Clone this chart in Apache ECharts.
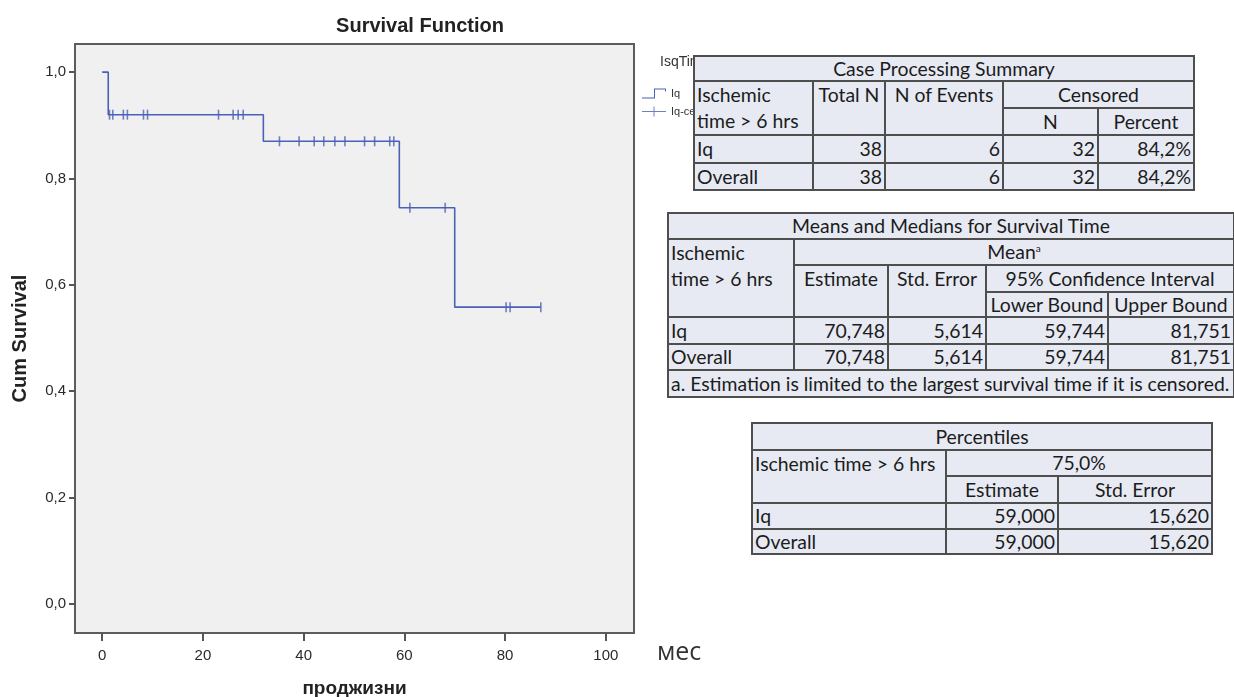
<!DOCTYPE html>
<html>
<head>
<meta charset="utf-8">
<script src="https://cdn.jsdelivr.net/npm/echarts@6/dist/echarts.min.js"></script>
<style>
  html, body { margin:0; padding:0; background:#fff; }
  #chart { position:absolute; left:0; top:0; width:1234px; height:697px; }
  .tbl { position:absolute; z-index:10; border-collapse:collapse; table-layout:fixed;
         background:#e7eaf3; font-family:Lato, "Open Sans", sans-serif; font-size:19.4px; color:#1c1c1c; }
  .tbl td { border:2px solid #4e4e4e; padding:0 2px; line-height:22px; white-space:nowrap; overflow:hidden; vertical-align:middle; }
  .tbl td.c { text-align:center; }
  .tbl td.r { text-align:right; }
  .tbl td.l { text-align:left; }
  .tbl td.top { vertical-align:top; line-height:26px; }
  sup { font-size:10px; line-height:0; }
</style>
</head>
<body>
<div id="chart"></div>
<div id="tables"></div>
<script>
// ---- data ----
const stepTimes    = [0, 1.2, 32, 59, 70, 87.1];
const stepSurvival = [1.0, 0.920, 0.870, 0.745, 0.558, 0.558];
const censorTimes    = [1.45, 2.1, 4.2, 5.0, 8.2, 9.0, 23.1, 26.0, 27.0, 28.0,
                        35.2, 39.1, 42.1, 44.0, 46.2, 48.2, 52.1, 54.1, 57.1, 57.9,
                        61.1, 68.1, 80.2, 81.0, 87.1];
const censorSurvival = [0.920, 0.920, 0.920, 0.920, 0.920, 0.920, 0.920, 0.920, 0.920, 0.920,
                        0.870, 0.870, 0.870, 0.870, 0.870, 0.870, 0.870, 0.870, 0.870, 0.870,
                        0.745, 0.745, 0.558, 0.558, 0.558];
const xTicks = [0, 20, 40, 60, 80, 100];
const yTicks = [0, 0.2, 0.4, 0.6, 0.8, 1.0];

const caseRows = [['Iq', '38', '6', '32', '84,2%'], ['Overall', '38', '6', '32', '84,2%']];
const meanRows = [['Iq', '70,748', '5,614', '59,744', '81,751'], ['Overall', '70,748', '5,614', '59,744', '81,751']];
const pctRows  = [['Iq', '59,000', '15,620'], ['Overall', '59,000', '15,620']];

const BLUE = '#4a61b8';

// ---- chart ----
const chart = echarts.init(document.getElementById('chart'), null, { renderer: 'canvas' });
const stepPath = 'path://M0 9 L12 9 L12 0 L24 0 L24 3 L23 3 L23 1 L13 1 L13 10 L0 10 Z';
const censPath = 'path://M0 4.5 L11.5 4.5 L11.5 0 L12.5 0 L12.5 4.5 L24 4.5 L24 5.5 L12.5 5.5 L12.5 10 L11.5 10 L11.5 5.5 L0 5.5 Z';

chart.setOption({
  animation: false,
  grid: { left: 75, right: 600, top: 44, bottom: 64, show: true, backgroundColor: '#f0f0f0',
          borderColor: '#5c5c5c', borderWidth: 2, containLabel: false, outerBoundsMode: 'none' },
  xAxis: {
    type: 'value', min: -5.4, max: 105.6,
    splitLine: { show: false },
    axisLine: { show: false, onZero: false },
    axisTick: { show: true, length: 8, customValues: xTicks, lineStyle: { color: '#555', width: 2 } },
    axisLabel: { customValues: xTicks, fontSize: 15, color: '#2a2a2a', margin: 15, fontFamily: 'Liberation Sans' },
    name: 'проджизни', nameLocation: 'middle', nameGap: 46,
    nameTextStyle: { fontWeight: 'bold', fontSize: 19, color: '#222', fontFamily: 'Liberation Sans' }
  },
  yAxis: {
    type: 'value', min: -0.055, max: 1.053,
    splitLine: { show: false },
    axisLine: { show: false, onZero: false },
    axisTick: { show: true, length: 6, customValues: yTicks, lineStyle: { color: '#555', width: 2 } },
    axisLabel: { customValues: yTicks, fontSize: 15, color: '#2a2a2a', margin: 9, fontFamily: 'Liberation Sans',
                 formatter: v => v.toFixed(1).replace('.', ',') },
    name: 'Cum Survival', nameLocation: 'middle', nameGap: 45, nameRotate: 90,
    nameTextStyle: { fontWeight: 'bold', fontSize: 20, color: '#222', fontFamily: 'Liberation Sans' }
  },
  legend: {
    left: 637, top: 83, orient: 'vertical', itemWidth: 24, itemHeight: 10, itemGap: 7, itemTextGap: 3,
    selectedMode: false,
    textStyle: { fontSize: 11, color: '#333', fontFamily: 'Liberation Sans' },
    data: [
      { name: 'Iq', icon: stepPath, itemStyle: { color: BLUE, borderWidth: 0 } },
      { name: 'Iq-censored', icon: censPath, itemStyle: { color: BLUE, borderWidth: 0 } }
    ]
  },
  graphic: [
    { type: 'text', x: 420, y: 26, style: { text: 'Survival Function', fontSize: 20, fontWeight: 'bold',
      fontFamily: 'Liberation Sans', fill: '#222', align: 'center', verticalAlign: 'middle' } },
    { type: 'text', x: 660, y: 62, style: { text: 'IsqTime', fontSize: 14,
      fontFamily: 'Liberation Sans', fill: '#333', align: 'left', verticalAlign: 'middle' } },
    { type: 'text', x: 657, y: 653, style: { text: 'мес', fontSize: 25,
      fontFamily: 'Open Sans', fill: '#333', align: 'left', verticalAlign: 'middle' } }
  ],
  series: [
    { name: 'Iq', type: 'line', step: 'end', symbol: 'none',
      lineStyle: { color: BLUE, width: 1.6 }, itemStyle: { color: BLUE },
      data: stepTimes.map((t, i) => [t, stepSurvival[i]]) },
    { name: 'Iq-censored', type: 'scatter', symbol: 'rect', symbolSize: [1.6, 10],
      itemStyle: { color: BLUE }, z: 3,
      data: censorTimes.map((t, i) => [t, censorSurvival[i]]) }
  ]
});

// ---- tables ----
function colgroup(ws) { return '<colgroup>' + ws.map(w => '<col style="width:' + w + 'px">').join('') + '</colgroup>'; }
function tr(h, cells) { return '<tr style="height:' + h + 'px">' + cells + '</tr>'; }

let t1 = '<table class="tbl" style="left:693px;top:55px;width:500px">' + colgroup([119, 72, 118, 95, 96]);
t1 += tr(25, '<td class="c" colspan="5">Case Processing Summary</td>');
t1 += tr(26, '<td class="l top" rowspan="2">Ischemic<br>time &gt; 6 hrs</td><td class="c top" rowspan="2">Total N</td><td class="c top" rowspan="2">N of Events</td><td class="c" colspan="2">Censored</td>');
t1 += tr(26, '<td class="c">N</td><td class="c">Percent</td>');
t1 += tr(28, caseRows[0].map((v, i) => '<td class="' + (i ? 'r' : 'l') + '">' + v + '</td>').join(''));
t1 += tr(27, caseRows[1].map((v, i) => '<td class="' + (i ? 'r' : 'l') + '">' + v + '</td>').join(''));
t1 += '</table>';

let t2 = '<table class="tbl" style="left:667px;top:212px;width:566px">' + colgroup([126, 94, 98, 122, 126]);
t2 += tr(26, '<td class="c" colspan="5">Means and Medians for Survival Time</td>');
t2 += tr(26, '<td class="l top" rowspan="3">Ischemic<br>time &gt; 6 hrs</td><td class="c" colspan="4">Mean<sup>a</sup></td>');
t2 += tr(27, '<td class="c top" rowspan="2">Estimate</td><td class="c top" rowspan="2">Std. Error</td><td class="c" colspan="2">95% Confidence Interval</td>');
t2 += tr(25, '<td class="c">Lower Bound</td><td class="c">Upper Bound</td>');
t2 += tr(27, meanRows[0].map((v, i) => '<td class="' + (i ? 'r' : 'l') + '">' + v + '</td>').join(''));
t2 += tr(26, meanRows[1].map((v, i) => '<td class="' + (i ? 'r' : 'l') + '">' + v + '</td>').join(''));
t2 += tr(27, '<td class="l" colspan="5">a. Estimation is limited to the largest survival time if it is censored.</td>');
t2 += '</table>';

let t3 = '<table class="tbl" style="left:751px;top:422px;width:460px">' + colgroup([194, 112, 154]);
t3 += tr(27, '<td class="c" colspan="3">Percentiles</td>');
t3 += tr(26, '<td class="l top" rowspan="2">Ischemic time &gt; 6 hrs</td><td class="c" colspan="2">75,0%</td>');
t3 += tr(27, '<td class="c">Estimate</td><td class="c">Std. Error</td>');
t3 += tr(26, pctRows[0].map((v, i) => '<td class="' + (i ? 'r' : 'l') + '">' + v + '</td>').join(''));
t3 += tr(25, pctRows[1].map((v, i) => '<td class="' + (i ? 'r' : 'l') + '">' + v + '</td>').join(''));
t3 += '</table>';

document.getElementById('tables').innerHTML = t1 + t2 + t3;
</script>
</body>
</html>
